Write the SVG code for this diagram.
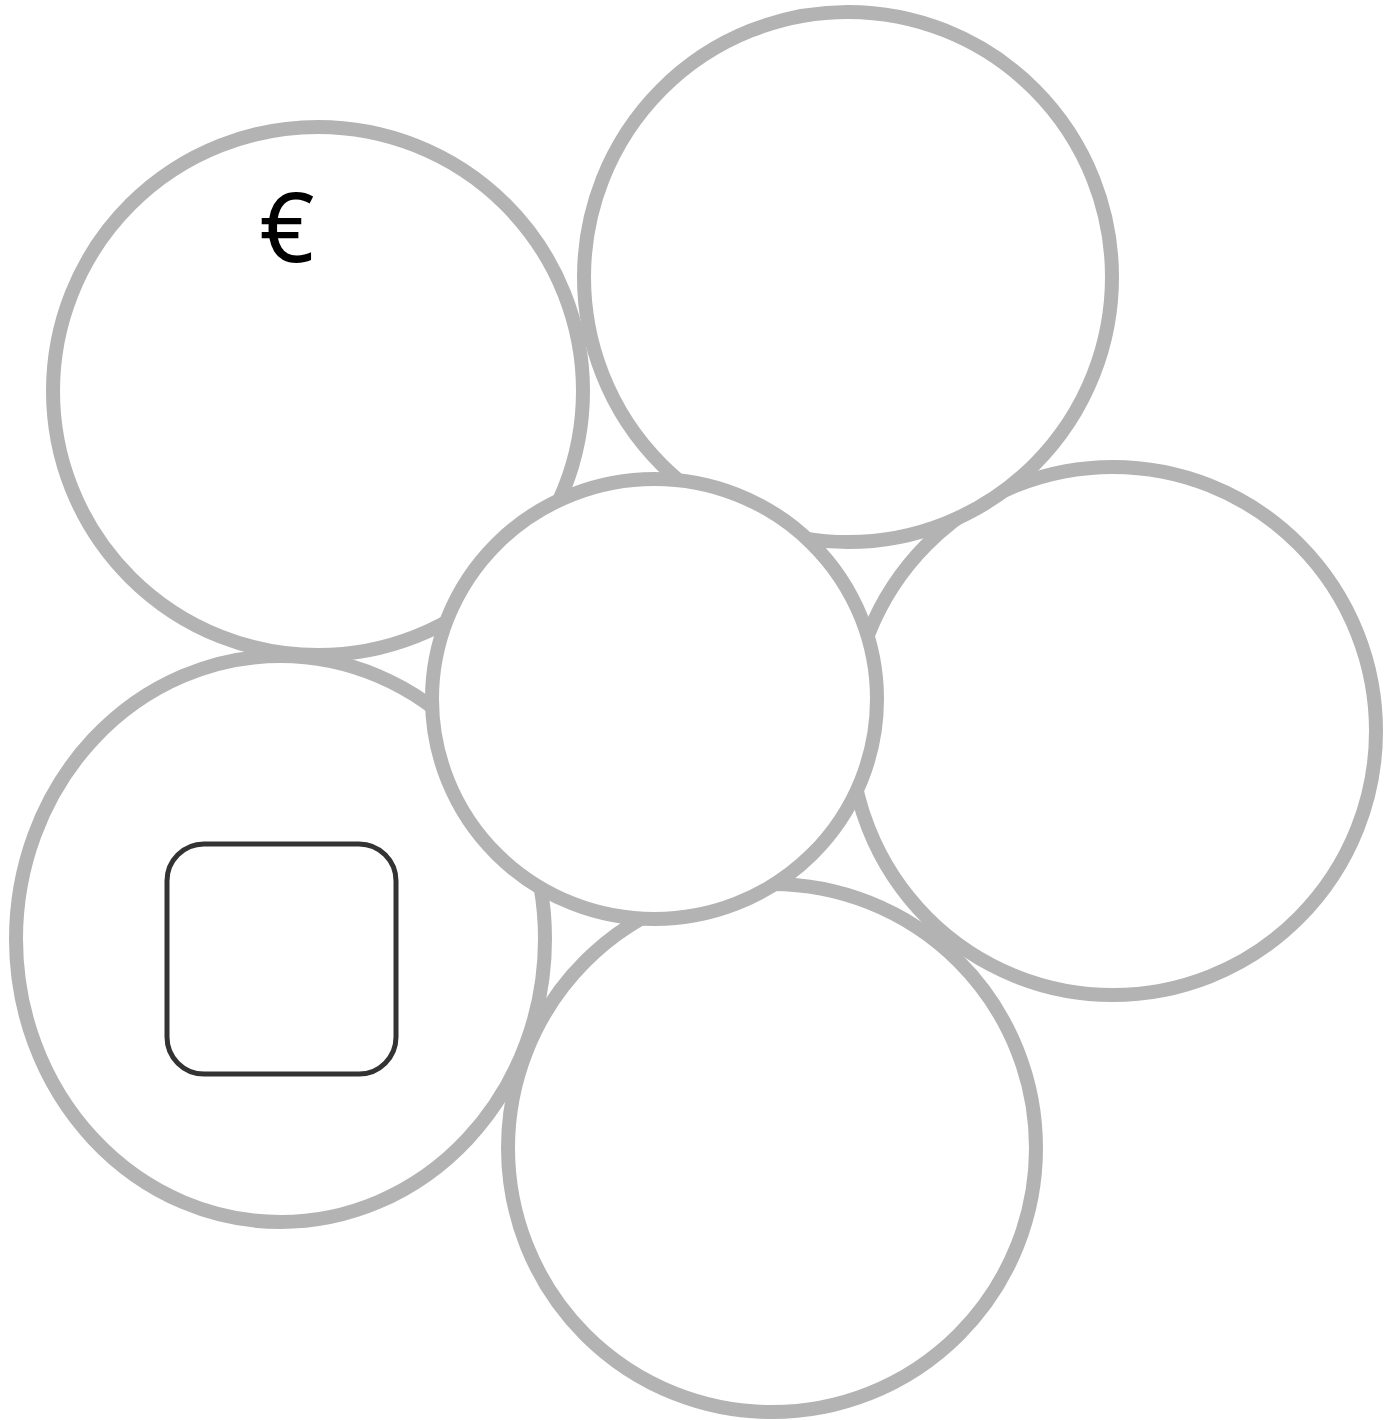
<svg xmlns="http://www.w3.org/2000/svg" width="1395" height="1420" viewBox="0 0 1395 1420">
  <style>
    .c { fill: #ffffff; stroke: #b3b3b3; stroke-width: 14; }
    .box { fill: #ffffff; stroke: #333333; stroke-width: 5; }
    .lbl { font-family: "Noto Sans", "DejaVu Sans", sans-serif; font-size: 96px; fill: #000000; }
  </style>
  <rect width="1395" height="1420" fill="#ffffff"/>
  <g id="connectors"></g>
  <g id="node-top-left">
    <ellipse class="c" cx="318" cy="391" rx="265" ry="264"/>
    <text class="lbl" x="287" y="262" text-anchor="middle">€</text>
  </g>
  <g id="node-bottom-left">
    <ellipse class="c" cx="280.5" cy="939" rx="264.5" ry="283"/>
    <rect class="box" x="167" y="844" width="229" height="230" rx="37" ry="37"/>
  </g>
  <g id="node-bottom">
    <ellipse class="c" cx="772" cy="1148" rx="264" ry="264"/>
  </g>
  <g id="node-right">
    <ellipse class="c" cx="1113" cy="731" rx="263" ry="264"/>
  </g>
  <g id="node-top-right">
    <ellipse class="c" cx="848" cy="277" rx="264" ry="265"/>
  </g>
  <g id="node-center">
    <ellipse class="c" cx="654.5" cy="699" rx="222.5" ry="220"/>
  </g>
</svg>
